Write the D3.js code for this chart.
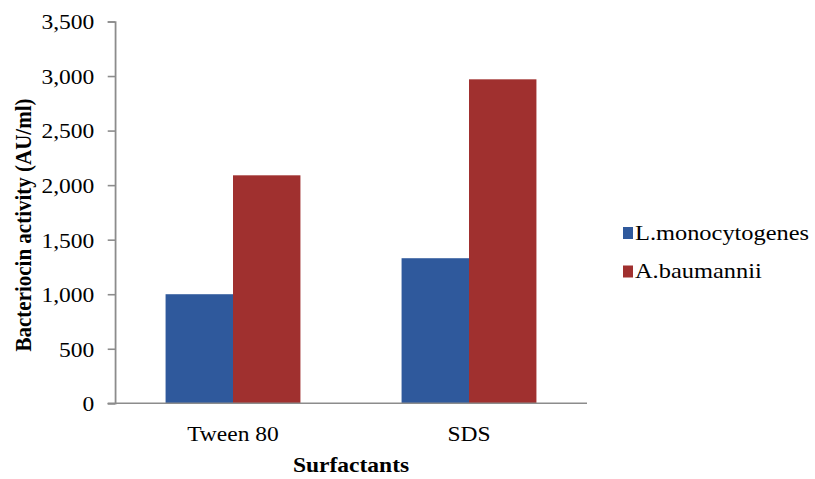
<!DOCTYPE html>
<html>
<head>
<meta charset="utf-8">
<style>
  body { margin: 0; background: #fff; }
  svg { display: block; }
  text { font-family: "Liberation Serif", "Times New Roman", serif; fill: #000; }
</style>
</head>
<body>
<script src="https://cdnjs.cloudflare.com/ajax/libs/d3/7.8.5/d3.min.js"></script>
<script>
// DATA
var categories = ["Tween 80", "SDS"];
var seriesNames = ["L.monocytogenes", "A.baumannii"];
var lmonoValues = [1000, 1330];
var abaumValues = [2090, 2970];
var yTicks = [0, 500, 1000, 1500, 2000, 2500, 3000, 3500];
var colors = ["#2f599c", "#a0302f"];

// the reference looks a bit stretched sideways, so draw in a narrower box and stretch it
var stretch = 1.12;
var W = 815, H = 479;
var LW = W / stretch;

var svg = d3.select("body").append("svg")
  .attr("width", W)
  .attr("height", H)
  .attr("viewBox", "0 0 " + LW + " " + H)
  .attr("preserveAspectRatio", "none");

var plotLeft = 115 / stretch, plotRight = 587 / stretch, plotTop = 21.5, plotBottom = 403.3;

var x = d3.scaleBand().domain(categories).range([plotLeft, plotRight]);
var x1 = d3.scaleBand().domain(seriesNames)
  .range([x.bandwidth() / 2 - x.bandwidth() / 3.5, x.bandwidth() / 2 + x.bandwidth() / 3.5]);
var y = d3.scaleLinear().domain([0, 3500]).range([plotBottom, plotTop]);

// rows for bars
var rows = [];
categories.forEach(function(c, i) {
  rows.push({cat: c, s: seriesNames[0], v: lmonoValues[i], color: colors[0]});
  rows.push({cat: c, s: seriesNames[1], v: abaumValues[i], color: colors[1]});
});

// y axis
var yAxis = svg.append("g")
  .attr("transform", "translate(" + plotLeft + ",0)")
  .call(d3.axisLeft(y).tickValues(yTicks).tickSize(6.5).tickPadding(12).tickFormat(d3.format(",")));
yAxis.attr("font-family", null);
yAxis.select(".domain").attr("stroke", "#8c8c8c").attr("stroke-width", 1.6);
yAxis.selectAll(".tick line").attr("stroke", "#8c8c8c").attr("stroke-width", 1.6);
yAxis.selectAll("text").style("font-size", "21px").attr("fill", "#000").attr("dy", "0.35em");

// bars
svg.selectAll("rect.bar")
  .data(rows)
  .enter().append("rect")
  .attr("class", "bar")
  .attr("x", function(d) { return x(d.cat) + x1(d.s); })
  .attr("y", function(d) { return y(d.v); })
  .attr("width", x1.bandwidth())
  .attr("height", function(d) { return y(0) - y(d.v); })
  .style("fill", function(d) { return d.color; });

// x axis line (extends left like a tick)
svg.append("line")
  .attr("x1", plotLeft - 6.5).attr("x2", plotRight)
  .attr("y1", plotBottom).attr("y2", plotBottom)
  .attr("stroke", "#8c8c8c").attr("stroke-width", 1.6);

// category labels
svg.selectAll("text.cat")
  .data(categories)
  .enter().append("text")
  .attr("class", "cat")
  .attr("x", function(d) { return x(d) + x.bandwidth() / 2; })
  .attr("y", 441)
  .attr("text-anchor", "middle")
  .style("font-size", "21px")
  .text(function(d) { return d; });

// axis titles
svg.append("text")
  .attr("x", (plotLeft + plotRight) / 2)
  .attr("y", 472)
  .attr("text-anchor", "middle")
  .style("font-size", "21px")
  .style("font-weight", "bold")
  .text("Surfactants");

svg.append("text")
  .attr("transform", "translate(" + (31 / stretch) + "," + 225 + ") rotate(-90)")
  .attr("text-anchor", "middle")
  .style("font-size", "21px")
  .style("font-weight", "bold")
  .text("Bacteriocin activity (AU/ml)");

// legend
var legend = svg.selectAll("g.legend")
  .data(seriesNames)
  .enter().append("g")
  .attr("class", "legend")
  .attr("transform", function(d, i) { return "translate(" + (623 / stretch) + "," + (227 + i * 38.5) + ")"; });

legend.append("rect")
  .attr("width", 10 / stretch)
  .attr("height", 12)
  .style("fill", function(d, i) { return colors[i]; });

legend.append("text")
  .attr("x", 12 / stretch)
  .attr("y", 12.5)
  .style("font-size", "21.8px")
  .text(function(d) { return d; });
</script>
</body>
</html>
